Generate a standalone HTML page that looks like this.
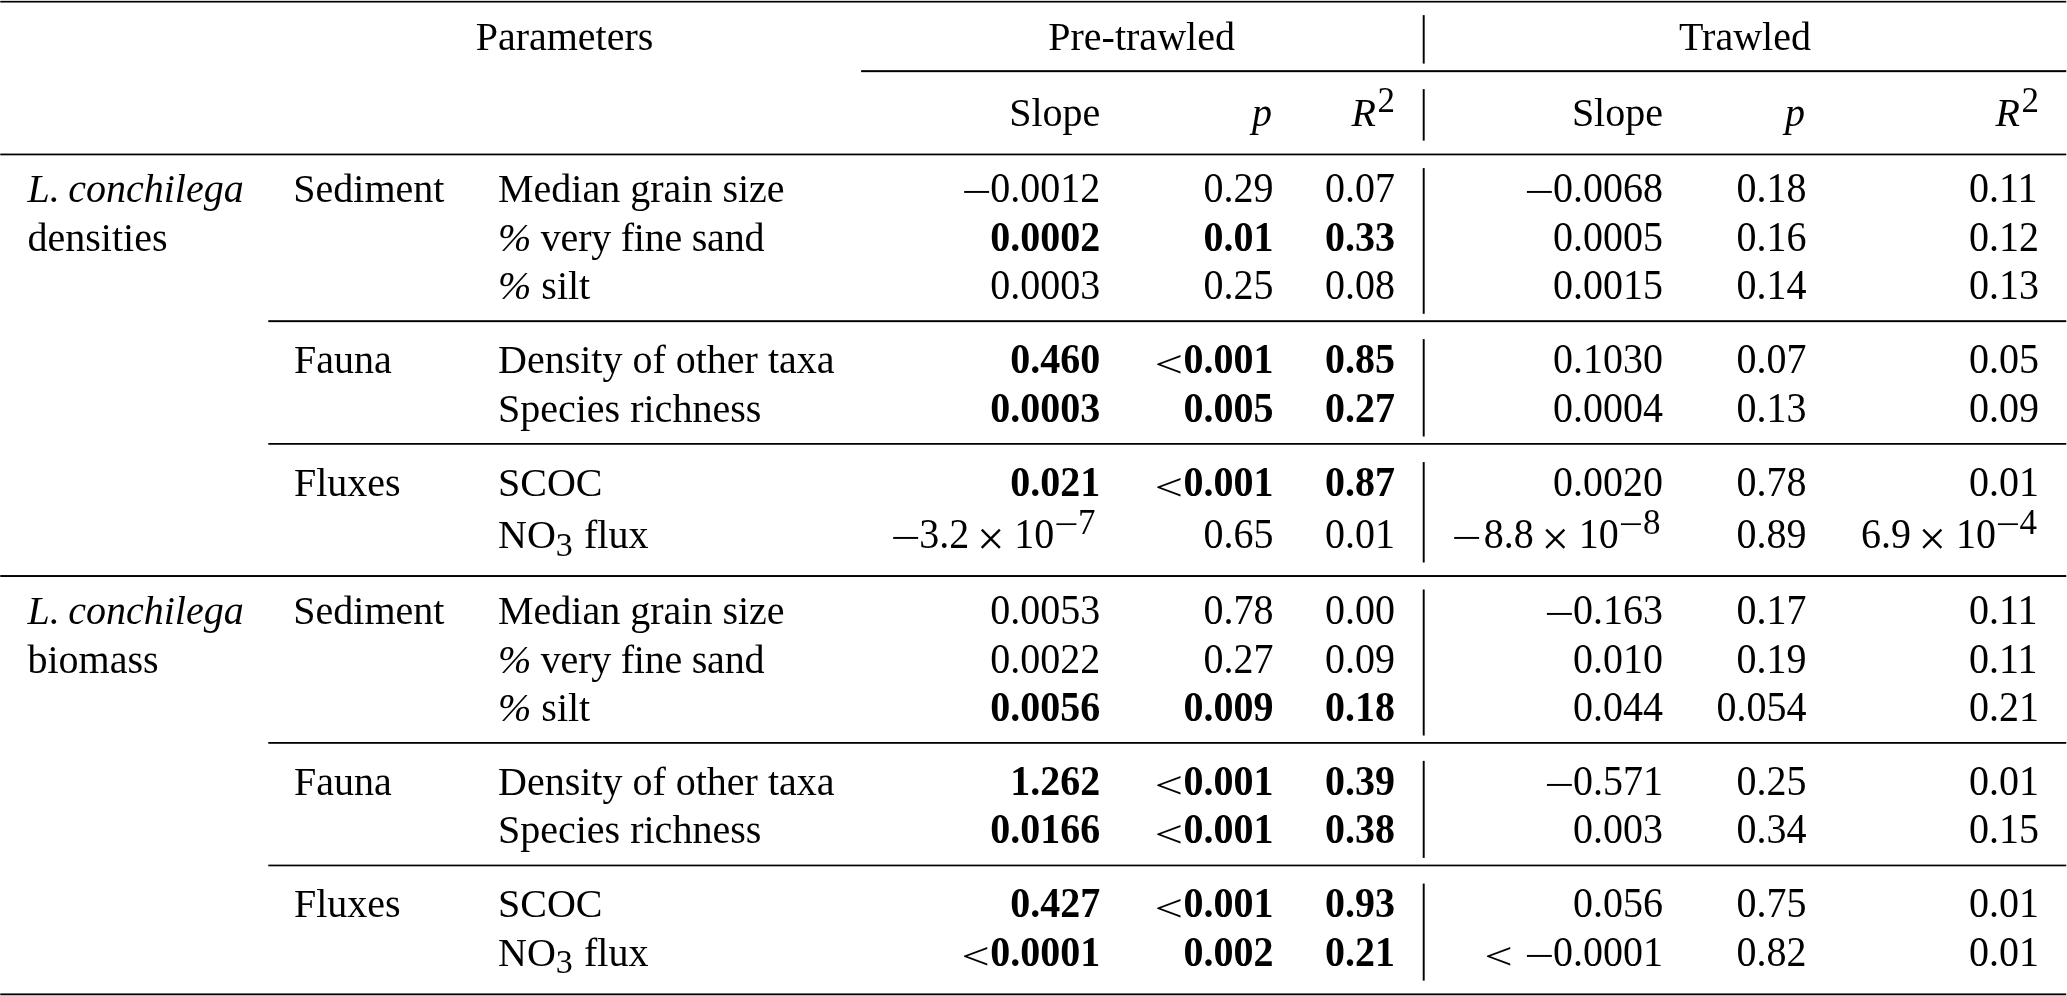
<!DOCTYPE html>
<html><head><meta charset="utf-8"><title>Table</title>
<style>
html,body{margin:0;padding:0;background:#fff;}
body{width:2067px;height:996px;overflow:hidden;}
svg{display:block;will-change:transform;}
text{font-family:"Liberation Serif","Times New Roman",serif;font-size:40px;fill:#000;}
</style></head><body>
<svg width="2067" height="996" viewBox="0 0 2067 996">
<g fill="#000">
<rect x="0.25" y="0.85" width="2066.00" height="1.68"/>
<rect x="861.1" y="70.16" width="1205.15" height="2"/>
<rect x="0.25" y="153.56" width="2066.00" height="1.77"/>
<rect x="268.3" y="320.20" width="1797.95" height="1.94"/>
<rect x="268.3" y="443.00" width="1797.95" height="1.75"/>
<rect x="0.25" y="575.05" width="2066.00" height="1.93"/>
<rect x="268.3" y="742.00" width="1797.95" height="1.79"/>
<rect x="268.3" y="864.62" width="1797.95" height="1.68"/>
<rect x="0.25" y="993.43" width="2066.00" height="1.84"/>
<rect x="1422.73" y="15.1" width="1.94" height="48.50"/>
<rect x="1422.73" y="89.1" width="1.94" height="51.50"/>
<rect x="1422.73" y="168.1" width="1.94" height="145.70"/>
<rect x="1422.73" y="339.1" width="1.94" height="97.40"/>
<rect x="1422.73" y="462.1" width="1.94" height="100.40"/>
<rect x="1422.73" y="589.5" width="1.94" height="146.00"/>
<rect x="1422.73" y="760.9" width="1.94" height="97.00"/>
<rect x="1422.73" y="883.6" width="1.94" height="97.00"/>
</g>
<text x="564.5" y="49.5" text-anchor="middle">Parameters</text>
<text x="1141.6" y="49.5" text-anchor="middle">Pre-trawled</text>
<text x="1745.0" y="49.5" text-anchor="middle">Trawled</text>
<text x="1009.19" y="126.20">Slope</text>
<text x="1571.89" y="126.20">Slope</text>
<text x="1252.00" y="126.20" style="font-style:italic">p</text>
<text x="1785.00" y="126.20" style="font-style:italic">p</text>
<text x="1351.57" y="126.20" style="font-style:italic">R</text>
<text x="1377.50" y="111.80" style="font-size:35.00px">2</text>
<text x="1995.57" y="126.20" style="font-style:italic">R</text>
<text x="2021.50" y="111.80" style="font-size:35.00px">2</text>
<text x="27.50" y="202.20" style="font-style:italic">L.<tspan dx="-1.5"> conchilega</tspan></text>
<text x="293.30" y="202.20">Sediment</text>
<text x="498.00" y="202.20">Median grain size</text>
<text transform="translate(961.57 205.40) scale(1.340 1.000)">−</text>
<text transform="translate(990.30 202.20) scale(1.000 1.055)">0.0012</text>
<text transform="translate(1203.50 202.20) scale(1.000 1.055)">0.29</text>
<text transform="translate(1325.00 202.20) scale(1.000 1.055)">0.07</text>
<text transform="translate(1524.27 205.40) scale(1.340 1.000)">−</text>
<text transform="translate(1553.00 202.20) scale(1.000 1.055)">0.0068</text>
<text transform="translate(1736.50 202.20) scale(1.000 1.055)">0.18</text>
<text transform="translate(1969.00 202.20) scale(1.000 1.055)">0.11</text>
<text x="27.50" y="250.70">densities</text>
<text x="498.00" y="250.70" textLength="266.4" lengthAdjust="spacing"><tspan style="font-style:italic">%</tspan> very fine sand</text>
<text transform="translate(990.30 250.70) scale(1.000 1.055)" style="font-weight:bold">0.0002</text>
<text transform="translate(1203.50 250.70) scale(1.000 1.055)" style="font-weight:bold">0.01</text>
<text transform="translate(1325.00 250.70) scale(1.000 1.055)" style="font-weight:bold">0.33</text>
<text transform="translate(1553.00 250.70) scale(1.000 1.055)">0.0005</text>
<text transform="translate(1736.50 250.70) scale(1.000 1.055)">0.16</text>
<text transform="translate(1969.00 250.70) scale(1.000 1.055)">0.12</text>
<text x="498.00" y="299.20"><tspan style="font-style:italic">%</tspan> silt</text>
<text transform="translate(990.30 299.20) scale(1.000 1.055)">0.0003</text>
<text transform="translate(1203.50 299.20) scale(1.000 1.055)">0.25</text>
<text transform="translate(1325.00 299.20) scale(1.000 1.055)">0.08</text>
<text transform="translate(1553.00 299.20) scale(1.000 1.055)">0.0015</text>
<text transform="translate(1736.50 299.20) scale(1.000 1.055)">0.14</text>
<text transform="translate(1969.00 299.20) scale(1.000 1.055)">0.13</text>
<text x="294.00" y="373.20">Fauna</text>
<text x="498.00" y="373.20">Density of other taxa</text>
<text transform="translate(1010.30 373.20) scale(1.000 1.055)" style="font-weight:bold">0.460</text>
<text transform="translate(1154.70 376.50) scale(1.250 0.930)">&lt;</text>
<text transform="translate(1183.50 373.20) scale(1.000 1.055)" style="font-weight:bold">0.001</text>
<text transform="translate(1325.00 373.20) scale(1.000 1.055)" style="font-weight:bold">0.85</text>
<text transform="translate(1553.00 373.20) scale(1.000 1.055)">0.1030</text>
<text transform="translate(1736.50 373.20) scale(1.000 1.055)">0.07</text>
<text transform="translate(1969.00 373.20) scale(1.000 1.055)">0.05</text>
<text x="498.00" y="421.70">Species richness</text>
<text transform="translate(990.30 421.70) scale(1.000 1.055)" style="font-weight:bold">0.0003</text>
<text transform="translate(1183.50 421.70) scale(1.000 1.055)" style="font-weight:bold">0.005</text>
<text transform="translate(1325.00 421.70) scale(1.000 1.055)" style="font-weight:bold">0.27</text>
<text transform="translate(1553.00 421.70) scale(1.000 1.055)">0.0004</text>
<text transform="translate(1736.50 421.70) scale(1.000 1.055)">0.13</text>
<text transform="translate(1969.00 421.70) scale(1.000 1.055)">0.09</text>
<text x="294.00" y="496.20">Fluxes</text>
<text x="498.00" y="496.20">SCOC</text>
<text transform="translate(1010.30 496.20) scale(1.000 1.055)" style="font-weight:bold">0.021</text>
<text transform="translate(1154.70 499.50) scale(1.250 0.930)">&lt;</text>
<text transform="translate(1183.50 496.20) scale(1.000 1.055)" style="font-weight:bold">0.001</text>
<text transform="translate(1325.00 496.20) scale(1.000 1.055)" style="font-weight:bold">0.87</text>
<text transform="translate(1553.00 496.20) scale(1.000 1.055)">0.0020</text>
<text transform="translate(1736.50 496.20) scale(1.000 1.055)">0.78</text>
<text transform="translate(1969.00 496.20) scale(1.000 1.055)">0.01</text>
<text x="498.00" y="548.20">NO<tspan style="font-size:34.00px" dy="7.40">3</tspan><tspan dx="1.2" dy="-7.40"> flux</tspan></text>
<text transform="translate(890.57 551.40) scale(1.340 1.000)">−</text>
<text transform="translate(919.30 548.20) scale(1.000 1.055)">3.2</text>
<text x="976.90" y="555.20" style="font-size:48.80px">×</text>
<text transform="translate(1014.32 548.20) scale(1.000 1.055)">10</text>
<text transform="translate(1054.22 536.39) scale(1.230 1.000)" style="font-size:35.00px">−</text>
<text x="1077.90" y="533.80" style="font-size:35.00px">7</text>
<text transform="translate(1203.50 548.20) scale(1.000 1.055)">0.65</text>
<text transform="translate(1325.00 548.20) scale(1.000 1.055)">0.01</text>
<text transform="translate(1451.57 551.40) scale(1.340 1.000)">−</text>
<text transform="translate(1483.80 548.20) scale(1.000 1.055)">8.8</text>
<text x="1541.40" y="555.20" style="font-size:48.80px">×</text>
<text transform="translate(1578.82 548.20) scale(1.000 1.055)">10</text>
<text transform="translate(1618.72 536.39) scale(1.230 1.000)" style="font-size:35.00px">−</text>
<text x="1643.00" y="533.80" style="font-size:35.00px">8</text>
<text transform="translate(1736.50 548.20) scale(1.000 1.055)">0.89</text>
<text transform="translate(1860.90 548.20) scale(1.000 1.055)">6.9</text>
<text x="1918.50" y="555.20" style="font-size:48.80px">×</text>
<text transform="translate(1955.92 548.20) scale(1.000 1.055)">10</text>
<text transform="translate(1995.82 536.39) scale(1.230 1.000)" style="font-size:35.00px">−</text>
<text x="2019.50" y="533.80" style="font-size:35.00px">4</text>
<text x="27.50" y="624.20" style="font-style:italic">L.<tspan dx="-1.5"> conchilega</tspan></text>
<text x="293.30" y="624.20">Sediment</text>
<text x="498.00" y="624.20">Median grain size</text>
<text transform="translate(990.30 624.20) scale(1.000 1.055)">0.0053</text>
<text transform="translate(1203.50 624.20) scale(1.000 1.055)">0.78</text>
<text transform="translate(1325.00 624.20) scale(1.000 1.055)">0.00</text>
<text transform="translate(1544.27 627.40) scale(1.340 1.000)">−</text>
<text transform="translate(1573.00 624.20) scale(1.000 1.055)">0.163</text>
<text transform="translate(1736.50 624.20) scale(1.000 1.055)">0.17</text>
<text transform="translate(1969.00 624.20) scale(1.000 1.055)">0.11</text>
<text x="27.50" y="672.70">biomass</text>
<text x="498.00" y="672.70" textLength="266.4" lengthAdjust="spacing"><tspan style="font-style:italic">%</tspan> very fine sand</text>
<text transform="translate(990.30 672.70) scale(1.000 1.055)">0.0022</text>
<text transform="translate(1203.50 672.70) scale(1.000 1.055)">0.27</text>
<text transform="translate(1325.00 672.70) scale(1.000 1.055)">0.09</text>
<text transform="translate(1573.00 672.70) scale(1.000 1.055)">0.010</text>
<text transform="translate(1736.50 672.70) scale(1.000 1.055)">0.19</text>
<text transform="translate(1969.00 672.70) scale(1.000 1.055)">0.11</text>
<text x="498.00" y="721.20"><tspan style="font-style:italic">%</tspan> silt</text>
<text transform="translate(990.30 721.20) scale(1.000 1.055)" style="font-weight:bold">0.0056</text>
<text transform="translate(1183.50 721.20) scale(1.000 1.055)" style="font-weight:bold">0.009</text>
<text transform="translate(1325.00 721.20) scale(1.000 1.055)" style="font-weight:bold">0.18</text>
<text transform="translate(1573.00 721.20) scale(1.000 1.055)">0.044</text>
<text transform="translate(1716.50 721.20) scale(1.000 1.055)">0.054</text>
<text transform="translate(1969.00 721.20) scale(1.000 1.055)">0.21</text>
<text x="294.00" y="794.70">Fauna</text>
<text x="498.00" y="794.70">Density of other taxa</text>
<text transform="translate(1010.30 794.70) scale(1.000 1.055)" style="font-weight:bold">1.262</text>
<text transform="translate(1154.70 798.00) scale(1.250 0.930)">&lt;</text>
<text transform="translate(1183.50 794.70) scale(1.000 1.055)" style="font-weight:bold">0.001</text>
<text transform="translate(1325.00 794.70) scale(1.000 1.055)" style="font-weight:bold">0.39</text>
<text transform="translate(1544.27 797.90) scale(1.340 1.000)">−</text>
<text transform="translate(1573.00 794.70) scale(1.000 1.055)">0.571</text>
<text transform="translate(1736.50 794.70) scale(1.000 1.055)">0.25</text>
<text transform="translate(1969.00 794.70) scale(1.000 1.055)">0.01</text>
<text x="498.00" y="843.20">Species richness</text>
<text transform="translate(990.30 843.20) scale(1.000 1.055)" style="font-weight:bold">0.0166</text>
<text transform="translate(1154.70 846.50) scale(1.250 0.930)">&lt;</text>
<text transform="translate(1183.50 843.20) scale(1.000 1.055)" style="font-weight:bold">0.001</text>
<text transform="translate(1325.00 843.20) scale(1.000 1.055)" style="font-weight:bold">0.38</text>
<text transform="translate(1573.00 843.20) scale(1.000 1.055)">0.003</text>
<text transform="translate(1736.50 843.20) scale(1.000 1.055)">0.34</text>
<text transform="translate(1969.00 843.20) scale(1.000 1.055)">0.15</text>
<text x="294.00" y="917.20">Fluxes</text>
<text x="498.00" y="917.20">SCOC</text>
<text transform="translate(1010.30 917.20) scale(1.000 1.055)" style="font-weight:bold">0.427</text>
<text transform="translate(1154.70 920.50) scale(1.250 0.930)">&lt;</text>
<text transform="translate(1183.50 917.20) scale(1.000 1.055)" style="font-weight:bold">0.001</text>
<text transform="translate(1325.00 917.20) scale(1.000 1.055)" style="font-weight:bold">0.93</text>
<text transform="translate(1573.00 917.20) scale(1.000 1.055)">0.056</text>
<text transform="translate(1736.50 917.20) scale(1.000 1.055)">0.75</text>
<text transform="translate(1969.00 917.20) scale(1.000 1.055)">0.01</text>
<text x="498.00" y="965.70">NO<tspan style="font-size:34.00px" dy="7.40">3</tspan><tspan dx="1.2" dy="-7.40"> flux</tspan></text>
<text transform="translate(961.50 969.00) scale(1.250 0.930)">&lt;</text>
<text transform="translate(990.30 965.70) scale(1.000 1.055)" style="font-weight:bold">0.0001</text>
<text transform="translate(1183.50 965.70) scale(1.000 1.055)" style="font-weight:bold">0.002</text>
<text transform="translate(1325.00 965.70) scale(1.000 1.055)" style="font-weight:bold">0.21</text>
<text transform="translate(1484.57 969.00) scale(1.250 0.930)">&lt;</text>
<text transform="translate(1524.27 968.90) scale(1.340 1.000)">−</text>
<text transform="translate(1553.00 965.70) scale(1.000 1.055)">0.0001</text>
<text transform="translate(1736.50 965.70) scale(1.000 1.055)">0.82</text>
<text transform="translate(1969.00 965.70) scale(1.000 1.055)">0.01</text>
</svg>
</body></html>
